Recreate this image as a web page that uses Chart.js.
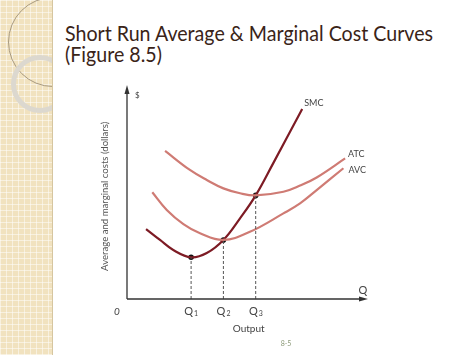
<!DOCTYPE html>
<html>
<head>
<meta charset="utf-8">
<script src="https://cdn.jsdelivr.net/npm/chart.js@4"></script>
<style>
  html,body{margin:0;padding:0;background:#fff;width:474px;height:355px;overflow:hidden;}
  #strip{position:absolute;left:0;top:0;width:52px;height:355px;overflow:hidden;
    background-color:#f1e2bf;
    background-image:
      repeating-linear-gradient(0deg, rgba(255,255,255,0.5) 0 1px, transparent 1px 6px),
      repeating-linear-gradient(90deg, rgba(255,255,255,0.5) 0 1px, transparent 1px 6px);
    border-right:1px solid #d6c6a0;}
  .c1{position:absolute;left:8px;top:-3px;width:90px;height:90px;border-radius:50%;border:1px solid #a89a80;box-sizing:border-box;}
  .c2{position:absolute;left:11px;top:55px;width:58px;height:58px;border-radius:50%;border:5px solid #dcd8cf;box-sizing:border-box;}
  #title{position:absolute;left:65px;top:22px;font-family:Lato,"Open Sans",sans-serif;font-size:22px;line-height:21px;color:#3a2418;white-space:nowrap;transform-origin:0 0;}
  #title span{display:inline-block;}
  canvas{position:absolute;left:0;top:0;}
</style>
</head>
<body>
<div id="strip"><div class="c1"></div><div class="c2"></div></div>
<div id="title"><span id="t1">Short Run Average &amp; Marginal Cost Curves</span><br><span>(Figure 8.5)</span></div>
<canvas id="c" width="474" height="355"></canvas>
<script>
// Data (x: output units 0-100, y: cost units 0-100)
const smcX = [7.9, 13.7, 19.2, 26.6, 33.1, 40, 46.9, 53.4, 60.7, 72.7];
const smcY = [32.7, 27.6, 22.9, 19.5, 21.5, 27.6, 37.7, 48.4, 63.5, 88.8];
const atcX = [15.8, 26.1, 33.1, 40, 46.9, 53.4, 64.9, 71.8, 78.7, 90.5];
const atcY = [69.2, 60.3, 55.6, 51.7, 49.4, 48.4, 50.1, 53.0, 56.8, 65.7];
const avcX = [10.5, 16.5, 23.4, 30.3, 40, 51, 64.9, 71.8, 78.7, 89.8];
const avcY = [49.9, 41.6, 35, 30.7, 27.6, 31.4, 40, 44.7, 50.9, 61.1];
const qX = [26.6, 40, 53.4];
const qY = [19.5, 27.6, 48.4];
const qLabels = ["Q1", "Q2", "Q3"];
const seriesLabels = ["SMC", "ATC", "AVC"];

// fit title width
(function(){
  const t1 = document.getElementById('t1');
  const w = t1.getBoundingClientRect().width;
  document.getElementById('title').style.transform = 'scaleX(' + (368 / w) + ')';
})();

const pts = (xs, ys) => xs.map((x, i) => ({x, y: ys[i]}));
const curve = (label, xs, ys, color, w) => ({
  label, data: pts(xs, ys), showLine: true, borderColor: color, borderWidth: w,
  pointRadius: 0, tension: 0.4, fill: false
});
const drops = qX.map((x, i) => ({
  label: 'drop' + i, data: [{x, y: 0}, {x, y: qY[i]}], showLine: true,
  borderColor: '#555', borderWidth: 1, borderDash: [3, 2], pointRadius: 0
}));

const deco = {
  id: 'deco',
  afterDatasetsDraw(chart) {
    const {ctx, scales: {x, y}} = chart;
    const X = v => x.getPixelForValue(v), Y = v => y.getPixelForValue(v);
    ctx.save();
    // axes
    ctx.strokeStyle = '#333'; ctx.fillStyle = '#333'; ctx.lineWidth = 1.3;
    ctx.beginPath();
    ctx.moveTo(X(0), Y(0)); ctx.lineTo(X(100) - 4, Y(0));
    ctx.moveTo(X(0), Y(0)); ctx.lineTo(X(0), Y(100) + 4);
    ctx.stroke();
    ctx.beginPath();
    ctx.moveTo(X(100), Y(0)); ctx.lineTo(X(100) - 9, Y(0) - 2.5); ctx.lineTo(X(100) - 9, Y(0) + 2.5); ctx.closePath(); ctx.fill();
    ctx.beginPath();
    ctx.moveTo(X(0), Y(100)); ctx.lineTo(X(0) - 2.5, Y(100) + 9); ctx.lineTo(X(0) + 2.5, Y(100) + 9); ctx.closePath(); ctx.fill();
    // text
    const F = 'Lato, "Open Sans", sans-serif';
    ctx.fillStyle = '#444';
    ctx.textBaseline = 'middle';
    ctx.font = '9px ' + F;
    ctx.textAlign = 'left';
    ctx.fillText(seriesLabels[0], X(smcX[smcX.length - 1]) + 2, Y(smcY[smcY.length - 1]) - 6);
    ctx.fillText(seriesLabels[1], X(atcX[atcX.length - 1]) + 3, Y(atcY[atcY.length - 1]) - 4);
    ctx.fillText(seriesLabels[2], X(avcX[avcX.length - 1]) + 5, Y(avcY[avcY.length - 1]) + 2);
    ctx.font = '8px ' + F;
    ctx.fillText('$', X(0) + 8, Y(100) + 10);
    ctx.font = '11px ' + F;
    ctx.textAlign = 'center';
    ctx.fillText('Q', X(100) - 5, Y(0) - 9);
    ctx.font = 'italic 10px ' + F;
    ctx.fillText('0', X(0) - 10, Y(0) + 13);
    qX.forEach((q, i) => {
      ctx.font = '11px ' + F;
      ctx.textAlign = 'right';
      ctx.fillText(qLabels[i][0], X(q) + 2, Y(0) + 12);
      ctx.font = '7px ' + F;
      ctx.textAlign = 'left';
      ctx.fillText(qLabels[i].slice(1), X(q) + 3, Y(0) + 15);
    });
    ctx.textAlign = 'center';
    ctx.font = '10px ' + F;
    ctx.fillText('Output', X(50.5), Y(0) + 30);
    ctx.font = '7px ' + F;
    ctx.fillStyle = '#8c9a78';
    ctx.fillText('8-5', X(66), Y(0) + 45);
    ctx.fillStyle = '#555';
    ctx.font = '9.6px ' + F;
    ctx.translate(X(0) - 22, Y(48));
    ctx.rotate(-Math.PI / 2);
    ctx.fillText('Average and marginal costs (dollars)', 0, 0);
    ctx.restore();
  }
};

new Chart(document.getElementById('c'), {
  type: 'scatter',
  data: {
    datasets: [
      ...drops,
      curve(seriesLabels[1], atcX, atcY, '#cf7b74', 2.2),
      curve(seriesLabels[2], avcX, avcY, '#cf7b74', 2.2),
      curve(seriesLabels[0], smcX, smcY, '#7d1b24', 2.2),
      {label: 'pts', data: pts(qX, qY), pointRadius: 2.8, pointBackgroundColor: '#111', pointBorderWidth: 0, showLine: false}
    ]
  },
  options: {
    responsive: false, animation: false,
    layout: {padding: {left: 127, right: 106, top: 85, bottom: 56}},
    plugins: {legend: {display: false}, tooltip: {enabled: false}, title: {display: false}},
    scales: {
      x: {type: 'linear', min: 0, max: 100, display: false},
      y: {type: 'linear', min: 0, max: 100, display: false}
    }
  },
  plugins: [deco]
});
</script>
</body>
</html>
